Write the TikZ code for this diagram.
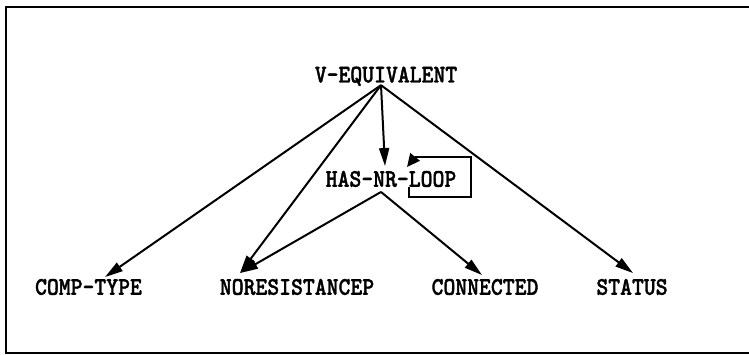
\documentclass[tikz,border=0pt]{standalone}
\usepackage{fontspec}
\usetikzlibrary{arrows.meta}
\newfontfamily\lblfont{lmmonolt10-bold.otf}[FakeBold=1.5]
\newcommand\lblfnt{\lblfont\fontsize{25.4}{25.4}\selectfont}
\begin{document}
\begin{tikzpicture}[x=1pt,y=-1pt,
  lbl/.style={inner sep=0pt, text height=15.5pt, text depth=0pt,
    font=\lblfnt, xscale=0.89, transform shape},
  edge/.style={line width=2pt, -{Triangle[length=18pt,width=10pt]}},
  frame/.style={line width=2pt}]
\useasboundingbox (0,0) rectangle (749,354);
\draw[frame] (749,7) -- (6,7) -- (6,353) -- (749,353);
\node[lbl] (veq) at (386,74.7) {V-EQUIVALENT};
\node[lbl] (hnl) at (391,179) {HAS-NR-LOOP};
\node[lbl] (ct) at (88.5,287) {COMP-TYPE};
\node[lbl] (nr) at (297,287) {NORESISTANCEP};
\node[lbl] (cn) at (485,287) {CONNECTED};
\node[lbl] (st) at (632,287) {STATUS};
\coordinate (vo) at ([xshift=-5pt,yshift=-2.5pt]veq.south);
\coordinate (ho) at ([xshift=-10pt,yshift=-5pt]hnl.south);
\draw[edge] (vo) -- ([xshift=-6pt,yshift=5pt]hnl.north);
\draw[edge] (vo) -- ([xshift=16.5pt,yshift=2pt]ct.north);
\draw[edge] (vo) -- ([xshift=-57pt,yshift=6pt]nr.north);
\draw[edge] (ho) -- ([xshift=-57pt,yshift=6pt]nr.north);
\draw[edge] (ho) -- ([xshift=-3pt,yshift=4pt]cn.north);
\draw[edge] (vo) -- ([xshift=1pt,yshift=6pt]st.north);
\coordinate (l1) at (409,187);
\coordinate (l2) at (409,197);
\coordinate (l3) at (471,197);
\coordinate (l4) at (471,157);
\coordinate (l5) at (415,157);
\coordinate (l6) at (407,167);
\draw[line width=2pt] (l1) -- (l2) -- (l3) -- (l4) -- (l5);
\draw[edge, -{Triangle[length=13pt,width=12pt]}] (l5) -- (l6);
\end{tikzpicture}
\end{document}
